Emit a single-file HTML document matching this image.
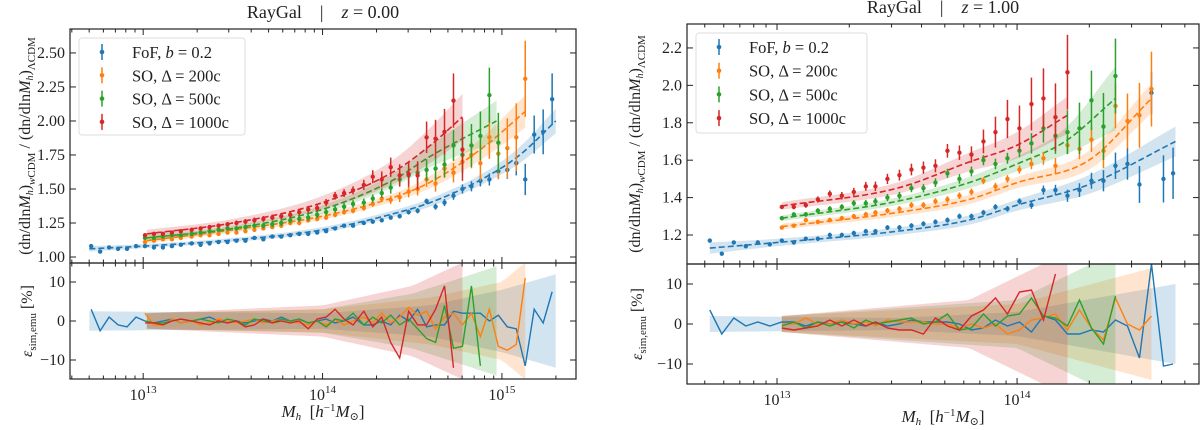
<!DOCTYPE html>
<html><head><meta charset="utf-8">
<style>
html,body{margin:0;padding:0;background:#fff;width:1200px;height:430px;overflow:hidden}
svg text{font-family:"Liberation Serif","DejaVu Serif",serif;fill:#222}
</style></head>
<body>
<svg id="chart" width="1200" height="430" viewBox="0 0 1200 430" xmlns="http://www.w3.org/2000/svg"></svg>
<script>
// ---------- data: z = 0.00 panel ----------
const binsZ0 = [12.71,12.76,12.81,12.86,12.91,12.96,13.01,13.06,13.11,13.16,13.21,13.27,13.32,13.37,13.42,13.47,13.52,13.57,13.62,13.67,13.72,13.77,13.82,13.87,13.92,13.97,14.02,14.07,14.12,14.17,14.23,14.28,14.33,14.38,14.43,14.48,14.53,14.58,14.63,14.68,14.73,14.78,14.83,14.88,14.93,14.98,15.03,15.08,15.13,15.18,15.23,15.28];
const fofZ0 = [1.08,1.04,1.07,1.06,1.06,1.08,1.08,1.07,1.07,1.08,1.09,1.10,1.09,1.10,1.11,1.11,1.12,1.12,1.14,1.13,1.15,1.15,1.16,1.17,1.17,1.18,1.19,1.21,1.23,1.23,1.25,1.26,1.27,1.29,1.30,1.33,1.34,1.41,1.37,1.40,1.45,1.50,1.52,1.56,1.57,1.63,1.64,1.69,1.57,1.90,1.92,2.16];
const so200Z0 = [1.11,1.12,1.13,1.13,1.14,1.15,1.16,1.16,1.17,1.18,1.18,1.19,1.20,1.21,1.22,1.23,1.25,1.25,1.27,1.28,1.29,1.31,1.33,1.34,1.36,1.39,1.43,1.42,1.44,1.48,1.50,1.57,1.54,1.65,1.62,1.70,1.75,1.69,1.88,1.76,1.80,1.88,2.31];
const so500Z0 = [1.14,1.14,1.15,1.16,1.16,1.17,1.18,1.19,1.20,1.21,1.21,1.22,1.23,1.23,1.24,1.25,1.27,1.28,1.29,1.31,1.33,1.35,1.37,1.39,1.40,1.43,1.47,1.51,1.57,1.60,1.62,1.64,1.65,1.68,1.82,1.75,1.82,1.89,2.19,1.84];
const so1000Z0 = [1.16,1.17,1.17,1.18,1.19,1.20,1.21,1.22,1.23,1.24,1.25,1.26,1.27,1.28,1.29,1.30,1.31,1.33,1.35,1.36,1.40,1.45,1.47,1.49,1.53,1.59,1.57,1.66,1.60,1.61,1.60,1.88,1.87,1.92,2.15,1.79];
const resFofZ0 = [3,-2.5,1,-1,-1.5,1,0,-0.5,0,0.5,-0.5,0,0.5,1,0,-0.5,0,-0.5,0,0.5,0,1,0,0.5,-0.5,0,0.5,-0.5,0,1,-1,-1,0,-1,1.5,0,3,-1.5,-1,-1,2.5,2,2,2,0,1.5,-1.5,-2,-11.5,3,-0.5,7.5];
const res200Z0 = [2,-1,-1,0.5,-0.5,0,-1,-0.5,0.5,0,-0.5,0,0.5,-0.5,0,0.5,0,-0.5,-1,0,-1,0.5,-1,0,1,-0.5,2,-0.5,1,3.5,1.5,2.5,-2,1,2,-1,2,-4,3,-6.5,-7.5,-6,11];
const res500Z0 = [0,-0.5,-0.5,0,0.5,0,0.5,0,-0.5,0.5,0,-1,0.5,0,-0.5,0.5,0,0.5,-0.5,0,-1.5,0.5,0,2,-1,1,-0.5,1.5,-1,0.5,-2,-4.5,-5.5,4,-7,-6.5,9,-11.5];
const res1000Z0 = [-0.5,-0.5,-1,0,0.5,0,-0.5,-1,0,-0.5,0,-1.5,-1,0.5,-0.5,0,-0.5,0,-2,0.5,1,3,0.5,-1,2.5,-1.5,1,-5.5,-9.5,2.5,-1,-1,3,9,-12];
// emulator fit knots (log mass, ratio, half-width)
const fitFofZ0M=[12.7,13,13.5,14,14.4,14.6,14.9,15.1,15.3], fitFofZ0V=[1.06,1.08,1.125,1.20,1.32,1.40,1.58,1.75,2.00], fitFofZ0E=[0.02,0.015,0.015,0.02,0.025,0.03,0.04,0.06,0.09];
const fit200Z0M=[13.02,13.5,14,14.4,14.6,14.9,15.13], fit200Z0V=[1.12,1.20,1.30,1.44,1.55,1.81,2.07], fit200Z0E=[.02,.02,.025,.03,.045,.08,.12];
const fit500Z0M=[13.02,13.5,14,14.4,14.6,14.97], fit500Z0V=[1.14,1.21,1.35,1.57,1.74,2.0], fit500Z0E=[.02,.02,.03,.05,.08,.15];
const fit1000Z0M=[13.02,13.5,14,14.4,14.6,14.78], fit1000Z0V=[1.17,1.25,1.40,1.63,1.82,2.03], fit1000Z0E=[.03,.03,.05,.09,.13,.17];
const errFofZ0M=[12.7,14,14.6,15,15.3], errFofZ0V=[0.01,0.01,0.02,0.05,0.2];
const err200Z0M=[13,14.3,14.8,15.13], err200Z0V=[0.01,0.02,0.08,0.28];
const err500Z0M=[13,14.3,14.7,14.97], err500Z0V=[0.01,0.03,0.1,0.22];
const err1000Z0M=[13,14.2,14.6,14.78], err1000Z0V=[0.01,0.03,0.12,0.23];
const rbFofZ0M=[12.7,14,14.6,15,15.3], rbFofZ0V=[2.5,2,4,8,12];
const rb200Z0M=[13.02,14,14.6,15,15.13], rb200Z0V=[2,3,6,10,15];
const rb500Z0M=[13.02,14,14.5,14.97], rb500Z0V=[2,3,7,14];
const rb1000Z0M=[13.02,14,14.5,14.78], rb1000Z0V=[2,4,9,15];

// ---------- data: z = 1.00 panel ----------
const binsZ1 = [12.72,12.77,12.82,12.87,12.92,12.97,13.02,13.07,13.12,13.17,13.22,13.27,13.32,13.37,13.41,13.46,13.51,13.56,13.61,13.66,13.71,13.76,13.81,13.86,13.91,13.96,14.01,14.06,14.11,14.16,14.21,14.26,14.31,14.36,14.41,14.46,14.51,14.56,14.61,14.65];
const fofZ1 = [1.17,1.10,1.16,1.14,1.16,1.15,1.17,1.16,1.18,1.18,1.20,1.20,1.21,1.22,1.22,1.24,1.24,1.25,1.26,1.27,1.28,1.30,1.30,1.32,1.35,1.34,1.38,1.36,1.44,1.44,1.41,1.44,1.49,1.49,1.57,1.58,1.47,1.96,1.50,1.53];
const so200Z1 = [1.24,1.25,1.28,1.27,1.28,1.29,1.30,1.31,1.32,1.33,1.34,1.36,1.36,1.38,1.39,1.41,1.43,1.49,1.46,1.50,1.55,1.58,1.61,1.57,1.68,1.66,1.71,1.65,1.89,1.81,1.84,1.98];
const so500Z1 = [1.29,1.31,1.31,1.33,1.34,1.35,1.37,1.37,1.38,1.40,1.41,1.45,1.45,1.48,1.53,1.50,1.54,1.60,1.58,1.61,1.65,1.69,1.77,1.73,1.75,1.77,1.92,1.78,2.05];
const so1000Z1 = [1.35,1.35,1.36,1.39,1.42,1.41,1.43,1.46,1.46,1.50,1.52,1.55,1.56,1.57,1.65,1.64,1.63,1.70,1.75,1.82,1.77,1.90,1.93,1.83,2.07];
const resFofZ1 = [3.5,-2.5,1.5,-0.5,0.5,-0.5,0.5,0.5,-0.5,0.5,0,0.5,0,-0.5,0.5,-0.5,0,1,0.5,0.5,0.5,0,-1.5,-1,1,-0.5,0.5,-2,2,1,-2.5,-2.5,-1.5,-2,1,-0.5,-8.5,15,-10.5,-10];
const res200Z1 = [0,0,1.5,0,0,1,0,0.5,-0.5,1,0.5,0.5,0.5,0,0,-1,0,-1,0,-2.5,-1.5,1,1.5,2.5,-1.5,3.5,-1,-4,6.5,0,-1.5,2];
const res500Z1 = [-0.5,0.5,-1,0.5,-0.5,0.5,-1,1,0,0.5,1,1.5,0,0.5,2.5,-1.5,-1,2.5,-0.5,2,2.5,6.5,2,1.5,-0.5,6,-1,-5,7];
const res1000Z1 = [-1,-1.5,-1,-0.5,1,-0.5,1,-0.5,0.5,-1,-1.5,-1.5,-2.5,1.5,-0.5,-1.5,2,3.5,6.5,2.5,8,8.5,1,12.5];
const fitFofZ1M=[12.72,13,13.5,13.8,14,14.3,14.66], fitFofZ1V=[1.13,1.16,1.22,1.28,1.36,1.47,1.70], fitFofZ1E=[.03,.02,.02,.025,.03,.05,.08];
const fit200Z1M=[13.02,13.5,13.8,14,14.3,14.56], fit200Z1V=[1.245,1.32,1.39,1.48,1.60,1.93], fit200Z1E=[.015,.02,.025,.03,.05,.08];
const fit500Z1M=[13.02,13.5,13.8,14,14.2,14.41], fit500Z1V=[1.29,1.38,1.48,1.58,1.70,1.93], fit500Z1E=[.015,.02,.03,.04,.07,.17];
const fit1000Z1M=[13.02,13.5,13.8,14,14.21], fit1000Z1V=[1.355,1.45,1.59,1.68,1.84], fit1000Z1E=[.02,.03,.05,.07,.1];
const errFofZ1M=[12.7,14,14.3,14.66], errFofZ1V=[0.01,0.015,0.04,0.14];
const err200Z1M=[13,14,14.3,14.56], err200Z1V=[0.01,0.02,0.06,0.2];
const err500Z1M=[13,14,14.41], err500Z1V=[0.01,0.03,0.2];
const err1000Z1M=[13,13.8,14.21], err1000Z1V=[0.01,0.04,0.2];
const rbFofZ1M=[12.72,13.5,14,14.66], rbFofZ1V=[2,1.5,3,10];
const rb200Z1M=[13.02,14,14.56], rb200Z1V=[2,5,14];
const rb500Z1M=[13.02,14,14.41], rb500Z1V=[2,6,18];
const rb1000Z1M=[13.02,13.8,14.21], rb1000Z1V=[2,6,18];

const seriesColors = ['#1f77b4','#ff7f0e','#2ca02c','#d62728'];
const legendLabels = ['FoF, <i>b</i> = 0.2','SO, Δ = 200c','SO, Δ = 500c','SO, Δ = 1000c'];
const seriesNames = ['fof-b02','so-200c','so-500c','so-1000c'];
const yTicksZ0 = [1.00,1.25,1.50,1.75,2.00,2.25,2.50];
const yTicksZ1 = [1.2,1.4,1.6,1.8,2.0,2.2];
const resTicks = [-10,0,10];

const NS='http://www.w3.org/2000/svg';
const svg=document.getElementById('chart');
function mk(tag,attrs,parent){const e=document.createElementNS(NS,tag);for(const k in attrs)e.setAttribute(k,attrs[k]);(parent||svg).appendChild(e);return e;}
function interp(xs,vs,x){if(x<=xs[0])return vs[0];for(let i=1;i<xs.length;i++){if(x<=xs[i]){const t=(x-xs[i-1])/(xs[i]-xs[i-1]);return vs[i-1]+t*(vs[i]-vs[i-1]);}}return vs[vs.length-1];}
// smooth (cubic Hermite) interpolation through knots
function smooth(xs,vs,x){
 const n=xs.length;if(x<=xs[0])return vs[0];if(x>=xs[n-1])return vs[n-1];
 const slope=i=>{if(i===0)return (vs[1]-vs[0])/(xs[1]-xs[0]);if(i===n-1)return (vs[n-1]-vs[n-2])/(xs[n-1]-xs[n-2]);
  return ((vs[i+1]-vs[i])/(xs[i+1]-xs[i])+(vs[i]-vs[i-1])/(xs[i]-xs[i-1]))/2;};
 let i=0;while(x>xs[i+1])i++;
 const h=xs[i+1]-xs[i],t=(x-xs[i])/h,t2=t*t,t3=t2*t;
 return (2*t3-3*t2+1)*vs[i]+(t3-2*t2+t)*h*slope(i)+(-2*t3+3*t2)*vs[i+1]+(t3-t2)*h*slope(i+1);
}

const panels=[
 {id:'z0',title:'z = 0.00',x0:70,x1:576,lmin:12.592,lmax:15.413,yt:29,yd:263,yb:379,vmin:0.956,vmax:2.676,rmin:-14.87,rmax:14.87,
  bins:binsZ0,yTicks:yTicksZ0,yfmt:2,decades:[13,14,15],legend:{x:79,y:38,w:166,h:97,dy:23.3},ylx:30,
  series:[
   {vals:fofZ0,off:0,res:resFofZ0,fM:fitFofZ0M,fV:fitFofZ0V,fE:fitFofZ0E,eM:errFofZ0M,eV:errFofZ0V,rM:rbFofZ0M,rV:rbFofZ0V},
   {vals:so200Z0,off:6,res:res200Z0,fM:fit200Z0M,fV:fit200Z0V,fE:fit200Z0E,eM:err200Z0M,eV:err200Z0V,rM:rb200Z0M,rV:rb200Z0V},
   {vals:so500Z0,off:6,res:res500Z0,fM:fit500Z0M,fV:fit500Z0V,fE:fit500Z0E,eM:err500Z0M,eV:err500Z0V,rM:rb500Z0M,rV:rb500Z0V},
   {vals:so1000Z0,off:6,res:res1000Z0,fM:fit1000Z0M,fV:fit1000Z0V,fE:fit1000Z0E,eM:err1000Z0M,eV:err1000Z0V,rM:rb1000Z0M,rV:rb1000Z0V}]},
 {id:'z1',title:'z = 1.00',x0:687,x1:1199,lmin:12.625,lmax:14.758,yt:24,yd:264,yb:384,vmin:1.045,vmax:2.328,rmin:-15,rmax:15,
  bins:binsZ1,yTicks:yTicksZ1,yfmt:1,decades:[13,14],legend:{x:696,y:33,w:171,h:100,dy:23.7},ylx:640,
  series:[
   {vals:fofZ1,off:0,res:resFofZ1,fM:fitFofZ1M,fV:fitFofZ1V,fE:fitFofZ1E,eM:errFofZ1M,eV:errFofZ1V,rM:rbFofZ1M,rV:rbFofZ1V},
   {vals:so200Z1,off:6,res:res200Z1,fM:fit200Z1M,fV:fit200Z1V,fE:fit200Z1E,eM:err200Z1M,eV:err200Z1V,rM:rb200Z1M,rV:rb200Z1V},
   {vals:so500Z1,off:6,res:res500Z1,fM:fit500Z1M,fV:fit500Z1V,fE:fit500Z1E,eM:err500Z1M,eV:err500Z1V,rM:rb500Z1M,rV:rb500Z1V},
   {vals:so1000Z1,off:6,res:res1000Z1,fM:fit1000Z1M,fV:fit1000Z1V,fE:fit1000Z1E,eM:err1000Z1M,eV:err1000Z1V,rM:rb1000Z1M,rV:rb1000Z1V}]}
];

panels.forEach(p=>{
 const xs=l=>p.x0+(l-p.lmin)/(p.lmax-p.lmin)*(p.x1-p.x0);
 const ys=v=>p.yt+(p.vmax-v)/(p.vmax-p.vmin)*(p.yd-p.yt);
 const rs=v=>p.yd+(p.rmax-v)/(p.rmax-p.rmin)*(p.yb-p.yd);
 const g=mk('g',{});
 
 
 const clipT=mk('clipPath',{id:'ct'+p.id},g);mk('rect',{x:p.x0,y:p.yt,width:p.x1-p.x0,height:p.yd-p.yt},clipT);
 const clipB=mk('clipPath',{id:'cb'+p.id},g);mk('rect',{x:p.x0,y:p.yd,width:p.x1-p.x0,height:p.yb-p.yd},clipB);
 const gt=mk('g',{'clip-path':'url(#ct'+p.id+')'},g);
 const gb=mk('g',{'clip-path':'url(#cb'+p.id+')'},g);
 p.series.forEach((s,si)=>{
  const c=seriesColors[si];
  const m0=s.fM[0],m1=s.fM[s.fM.length-1];
  const steps=[];for(let k=0;k<=80;k++)steps.push(m0+(m1-m0)*k/80);
  let up=steps.map(m=>xs(m)+','+ys(smooth(s.fM,s.fV,m)+smooth(s.fM,s.fE,m)));
  let dn=steps.slice().reverse().map(m=>xs(m)+','+ys(smooth(s.fM,s.fV,m)-smooth(s.fM,s.fE,m)));
  const band=mk('polygon',{points:up.concat(dn).join(' '),fill:c,'fill-opacity':0.2,stroke:'none'},gt);
  
  
  const fit=mk('polyline',{points:steps.map(m=>xs(m)+','+ys(smooth(s.fM,s.fV,m))).join(' '),fill:'none',stroke:c,'stroke-width':1.6,'stroke-dasharray':'6,3'},gt);
  
  
  const rm0=s.rM[0],rm1=s.rM[s.rM.length-1];
  const rsteps=[];for(let k=0;k<=60;k++)rsteps.push(rm0+(rm1-rm0)*k/60);
  up=rsteps.map(m=>xs(m)+','+rs(interp(s.rM,s.rV,m)));
  dn=rsteps.slice().reverse().map(m=>xs(m)+','+rs(-interp(s.rM,s.rV,m)));
  const rband=mk('polygon',{points:up.concat(dn).join(' '),fill:c,'fill-opacity':0.2,stroke:'none'},gb);
  
  
 });
 p.series.forEach((s,si)=>{
  const c=seriesColors[si];
  s.vals.forEach((v,i)=>{
   const m=p.bins[i+s.off];
   const e=interp(s.eM,s.eV,m);
   const eb=mk('line',{x1:xs(m),x2:xs(m),y1:ys(v-e),y2:ys(v+e),stroke:c,'stroke-width':1.5},gt);
   
   
   const pt=mk('circle',{cx:xs(m),cy:ys(v),r:2.2,fill:c},gt);
   
   
  });
  const n=Math.min(s.res.length,s.vals.length);
  const pts=[];for(let i=0;i<n;i++)pts.push(xs(p.bins[i+s.off])+','+rs(s.res[i]));
  const rl=mk('polyline',{points:pts.join(' '),fill:'none',stroke:c,'stroke-width':1.4},gb);
  
  
 });
 [[p.yt,p.yd],[p.yd,p.yb]].forEach(([a,b])=>{mk('rect',{x:p.x0,y:a,width:p.x1-p.x0,height:b-a,fill:'none',stroke:'#222','stroke-width':1.2},g);});
 for(let d=12;d<=15;d++){for(let k=1;k<10;k++){const l=d+Math.log10(k);if(l<p.lmin||l>p.lmax)continue;const x=xs(l);const L=k===1?6:3.5;
  [p.yt,p.yd].forEach(y=>mk('line',{x1:x,x2:x,y1:y,y2:y+L,stroke:'#222','stroke-width':1},g));
  [p.yd,p.yb].forEach(y=>mk('line',{x1:x,x2:x,y1:y,y2:y-L,stroke:'#222','stroke-width':1},g));}}
 p.decades.forEach(d=>{const t=mk('text',{x:xs(d),y:p.yb+21,'text-anchor':'middle','font-size':16},g);t.innerHTML='10<tspan dy="-7" font-size="11">'+d+'</tspan>';
  });
 p.yTicks.forEach(v=>{const y=ys(v);mk('line',{x1:p.x0,x2:p.x0+6,y1:y,y2:y,stroke:'#222'},g);mk('line',{x1:p.x1,x2:p.x1-6,y1:y,y2:y,stroke:'#222'},g);
  const t=mk('text',{x:p.x0-5,y:y+5,'text-anchor':'end','font-size':16},g);t.textContent=v.toFixed(p.yfmt);
  });
 resTicks.forEach(v=>{const y=rs(v);mk('line',{x1:p.x0,x2:p.x0+6,y1:y,y2:y,stroke:'#222'},g);mk('line',{x1:p.x1,x2:p.x1-6,y1:y,y2:y,stroke:'#222'},g);
  const t=mk('text',{x:p.x0-5,y:y+5,'text-anchor':'end','font-size':16},g);t.textContent=v<0?'−'+Math.abs(v):String(v);
  });
 const cx=(p.x0+p.x1)/2;
 const tt=mk('text',{x:cx,y:p.yt-11,'text-anchor':'middle','font-size':18},g);
 tt.innerHTML='RayGal&#160;&#160;&#160;&#160;|&#160;&#160;&#160;&#160;<tspan font-style="italic">z</tspan> = '+p.title.slice(4);
 
 const xl=mk('text',{x:cx,y:p.yb+38,'text-anchor':'middle','font-size':17},g);
 xl.innerHTML='<tspan font-style="italic">M</tspan><tspan font-size="11" dy="3" font-style="italic">h</tspan><tspan dy="-3">&#160;&#160;[<tspan font-style="italic">h</tspan><tspan font-size="11" dy="-6">−1</tspan><tspan dy="6" font-style="italic">M</tspan><tspan font-size="11" dy="3">⊙</tspan><tspan dy="-3">]</tspan></tspan>';
 
 const yl=mk('text',{x:0,y:0,'text-anchor':'middle','font-size':16,transform:'translate('+p.ylx+','+((p.yt+p.yd)/2)+') rotate(-90)'},g);
 yl.innerHTML='(dn/dln<tspan font-style="italic">M</tspan><tspan font-size="10" dy="3" font-style="italic">h</tspan><tspan dy="-3">)</tspan><tspan font-size="11" dy="5" font-style="italic">w</tspan><tspan font-size="11">CDM</tspan><tspan dy="-5"> / (dn/dln<tspan font-style="italic">M</tspan><tspan font-size="10" dy="3" font-style="italic">h</tspan><tspan dy="-3">)</tspan><tspan font-size="11" dy="5">ΛCDM</tspan></tspan>';
 
 const rl=mk('text',{x:0,y:0,'text-anchor':'middle','font-size':16,transform:'translate('+(p.ylx+2)+','+((p.yd+p.yb)/2)+') rotate(-90)'},g);
 rl.innerHTML='<tspan font-style="italic">ε</tspan><tspan font-size="11" dy="4">sim,emu</tspan><tspan dy="-4"> [%]</tspan>';
 
 const L=p.legend;
 const lg=mk('g',{},g);
 
 mk('rect',{x:L.x,y:L.y,width:L.w,height:L.h,rx:3,fill:'#fff','fill-opacity':0.85,stroke:'#ddd'},lg);
 legendLabels.forEach((lab,i)=>{
  const y=L.y+14+i*L.dy;
  const e=mk('g',{},lg);
  
  
  mk('line',{x1:L.x+23,x2:L.x+23,y1:y-8,y2:y+8,stroke:seriesColors[i],'stroke-width':1.5},e);
  mk('circle',{cx:L.x+23,cy:y,r:2.3,fill:seriesColors[i]},e);
  const t=mk('text',{x:L.x+53,y:y+6,'font-size':16.5},e);
  t.innerHTML=lab.replace('<i>','<tspan font-style="italic">').replace('</i>','</tspan>');
 });
});
</script>
</body></html>
